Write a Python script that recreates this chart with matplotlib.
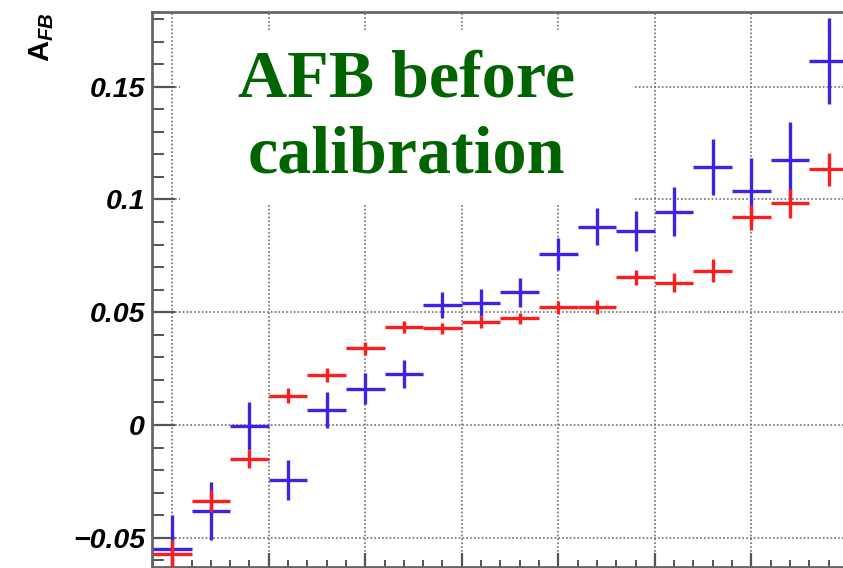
import matplotlib
matplotlib.use("Agg")
import matplotlib.pyplot as plt
import matplotlib.ticker as ticker
from matplotlib.patches import Rectangle

# bin centres (x units, major grid every 1.0) and half bin width
bin_centers = [0.0, 0.4, 0.8, 1.2, 1.6, 2.0, 2.4, 2.8, 3.2, 3.6,
               4.0, 4.4, 4.8, 5.2, 5.6, 6.0, 6.4, 6.8]
half_width = 0.2

blue_vals = [-0.0551, -0.0380, -0.0004, -0.0244, 0.0066, 0.0161, 0.0226, 0.0532, 0.0542,
             0.0588, 0.0758, 0.0879, 0.0860, 0.0945, 0.1144, 0.1038, 0.1174, 0.1613]
blue_err = [0.0151, 0.0128, 0.0105, 0.0090, 0.0080, 0.0070, 0.0064, 0.0059, 0.0060,
            0.0064, 0.0072, 0.0081, 0.0090, 0.0108, 0.0126, 0.0145, 0.0170, 0.0190]

red_vals = [-0.0572, -0.0337, -0.0149, 0.0130, 0.0222, 0.0340, 0.0433, 0.0428, 0.0458,
            0.0473, 0.0521, 0.0524, 0.0654, 0.0631, 0.0684, 0.0920, 0.0982, 0.1133]
red_err = [0.0060, 0.0050, 0.0040, 0.0033, 0.0030, 0.0030, 0.0026, 0.0024, 0.0026,
           0.0025, 0.0030, 0.0032, 0.0035, 0.0041, 0.0050, 0.0055, 0.0066, 0.0075]

title_lines = ["AFB before", "calibration"]

plt.rcParams['mathtext.fontset'] = 'custom'
plt.rcParams['mathtext.rm'] = 'Liberation Sans:bold'
plt.rcParams['mathtext.it'] = 'Liberation Sans:bold:italic'

fig = plt.figure(figsize=(8.43, 5.68), dpi=100)
ax = fig.add_axes([0.1803, 0.002, 0.8197, 0.9769])

ax.errorbar(bin_centers, blue_vals, xerr=half_width, yerr=blue_err, fmt='none',
            ecolor='#3f22e8', elinewidth=2.4, capsize=0, zorder=3)
ax.errorbar(bin_centers, red_vals, xerr=half_width, yerr=red_err, fmt='none',
            ecolor='#ff1c1c', elinewidth=2.4, capsize=0, zorder=4)

ax.set_xlim(-0.21, 6.95)
ax.set_ylim(-0.0629, 0.1831)

ax.xaxis.set_major_locator(ticker.MultipleLocator(1.0))
ax.xaxis.set_minor_locator(ticker.MultipleLocator(0.2))
ax.yaxis.set_major_locator(ticker.MultipleLocator(0.05))
ax.yaxis.set_minor_locator(ticker.MultipleLocator(0.01))
ax.yaxis.set_major_formatter(ticker.FuncFormatter(
    lambda v, p: '0' if abs(v) < 1e-9 else ('%g' % round(v, 3)).replace('-', '\u2212')))

ax.grid(True, which='major', color='#6e6e6e', linestyle=(0, (1, 1.3)), linewidth=1.2)
ax.set_axisbelow(True)

ax.tick_params(axis='y', which='major', direction='in', length=16.5, width=1.6,
               color='#555555', pad=5)
ax.tick_params(axis='y', which='minor', direction='in', length=8.6, width=1.4,
               color='#555555')
ax.tick_params(axis='x', which='major', direction='in', length=10, width=1.6,
               color='#555555', labelbottom=False)
ax.tick_params(axis='x', which='minor', direction='in', length=5, width=1.4,
               color='#555555')
for lab in ax.get_yticklabels():
    lab.set_fontfamily('Liberation Sans')
    lab.set_fontweight('bold')
    lab.set_fontstyle('italic')
    lab.set_fontsize(20.5)

for side in ['left', 'top', 'bottom']:
    ax.spines[side].set_color('#666666')
    ax.spines[side].set_linewidth(2.0)
ax.spines['right'].set_visible(False)

# white box behind the annotation
ax.add_patch(Rectangle((0.0405, 0.656), 0.6585, 0.312, transform=ax.transAxes,
                       facecolor='white', edgecolor='none', zorder=2))
ax.text(0.369, 0.878, title_lines[0], transform=ax.transAxes, ha='center', va='center',
        fontfamily='Liberation Serif', fontweight='bold', fontsize=49,
        color='#006400', zorder=5)
ax.text(0.368, 0.740, title_lines[1], transform=ax.transAxes, ha='center', va='center',
        fontfamily='Liberation Serif', fontweight='bold', fontsize=49,
        color='#006400', zorder=5)

fig.text(42 / 843, 1 - 37 / 568, r'$\mathrm{A}_{\mathit{FB}}$', rotation=90,
         ha='center', va='center', fontsize=21, color='black')

fig.savefig("out.png", dpi=100)
